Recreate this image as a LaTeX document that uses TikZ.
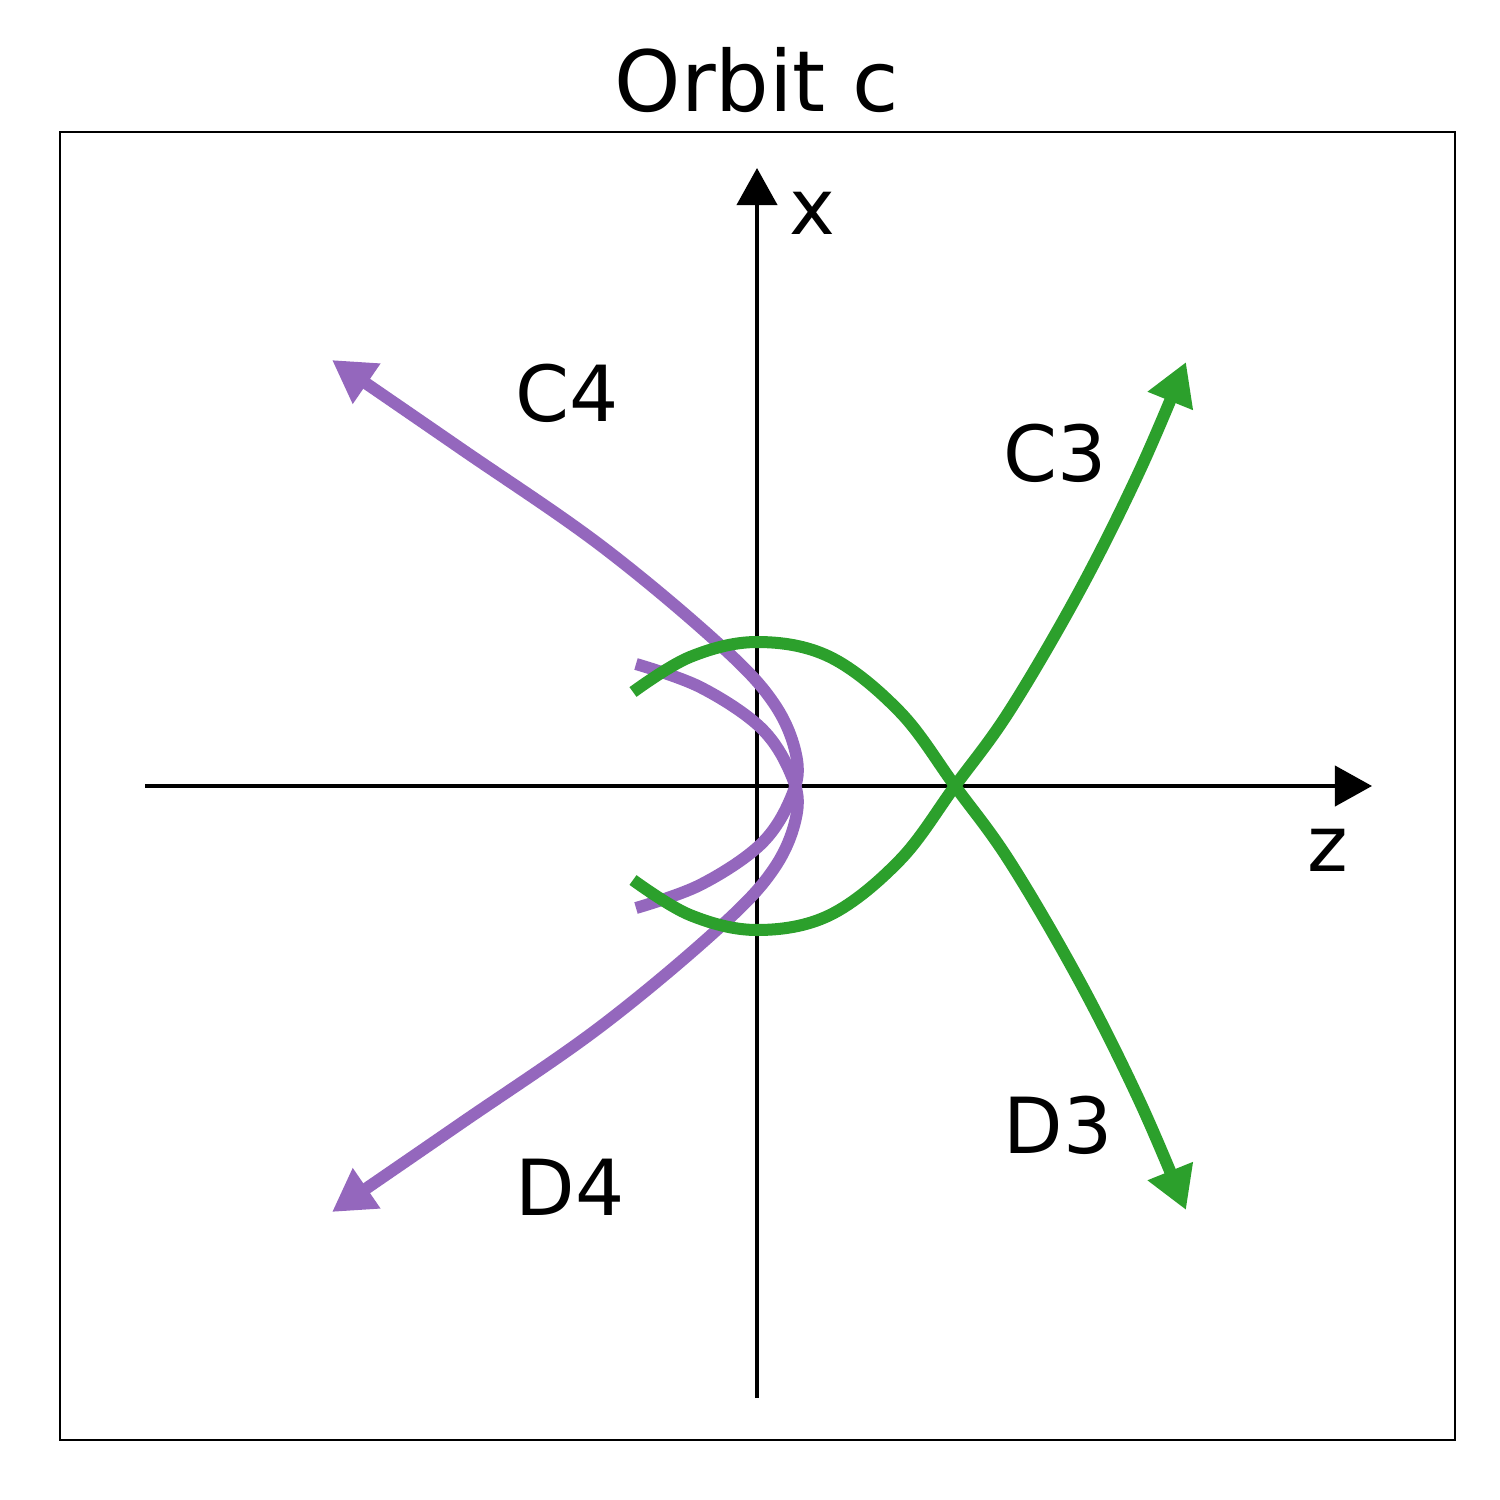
\documentclass[tikz,border=0pt]{standalone}
\usepackage{fontspec}
\setmainfont{DejaVu Sans}
\usetikzlibrary{arrows.meta}
\definecolor{mpurple}{HTML}{9467BD}
\definecolor{mgreen}{HTML}{2CA02C}
\begin{document}
\begin{tikzpicture}[x=0.01cm,y=-0.01cm,
  axis/.style={line width=0.04cm,-{Triangle[length=0.37cm,width=0.4cm]}},
  orb/.style={line width=0.12cm,-{Triangle[length=0.42cm,width=0.46cm]}},
  lab/.style={font=\fontsize{22}{26}\selectfont}]
\useasboundingbox (0,0) rectangle (1500,1500);
\draw[line width=0.025cm] (60,132) rectangle (1455,1440);
\node[font=\fontsize{24}{28}\selectfont] (title) at (757,80) {Orbit c};
\coordinate (xa) at (145,786); \coordinate (xb) at (1372,786);
\coordinate (ya) at (757,1398); \coordinate (yb) at (757,168);
\draw[axis] (xa) -- (xb);
\draw[axis] (ya) -- (yb);
\node[lab] (lx) at (812,213) {x};
\node[lab] (lz) at (1328,850) {z};
\draw[orb,mpurple] plot[smooth,tension=0.6] coordinates {(636,908) (700,885) (760,845) (790,800) (797,760) (775,705) (720,645) (600,545) (460,448) (332,360)};
\draw[orb,mpurple] plot[smooth,tension=0.6] coordinates {(636,664) (700,687) (760,727) (790,772) (797,812) (775,867) (720,927) (600,1027) (460,1124) (332,1212)};
\draw[orb,mgreen] plot[smooth,tension=0.6] coordinates {(633,880) (690,915) (757,930) (830,915) (900,860) (955,786) (1010,710) (1080,590) (1140,470) (1186,362)};
\draw[orb,mgreen] plot[smooth,tension=0.6] coordinates {(633,692) (690,657) (757,642) (830,657) (900,712) (955,786) (1010,862) (1080,982) (1140,1102) (1186,1210)};
\node[lab] (c4) at (567,393) {C4};
\node[lab] (c3) at (1055,453) {C3};
\node[lab] (d3) at (1058,1125) {D3};
\node[lab] (d4) at (570,1187) {D4};
\end{tikzpicture}
\end{document}
